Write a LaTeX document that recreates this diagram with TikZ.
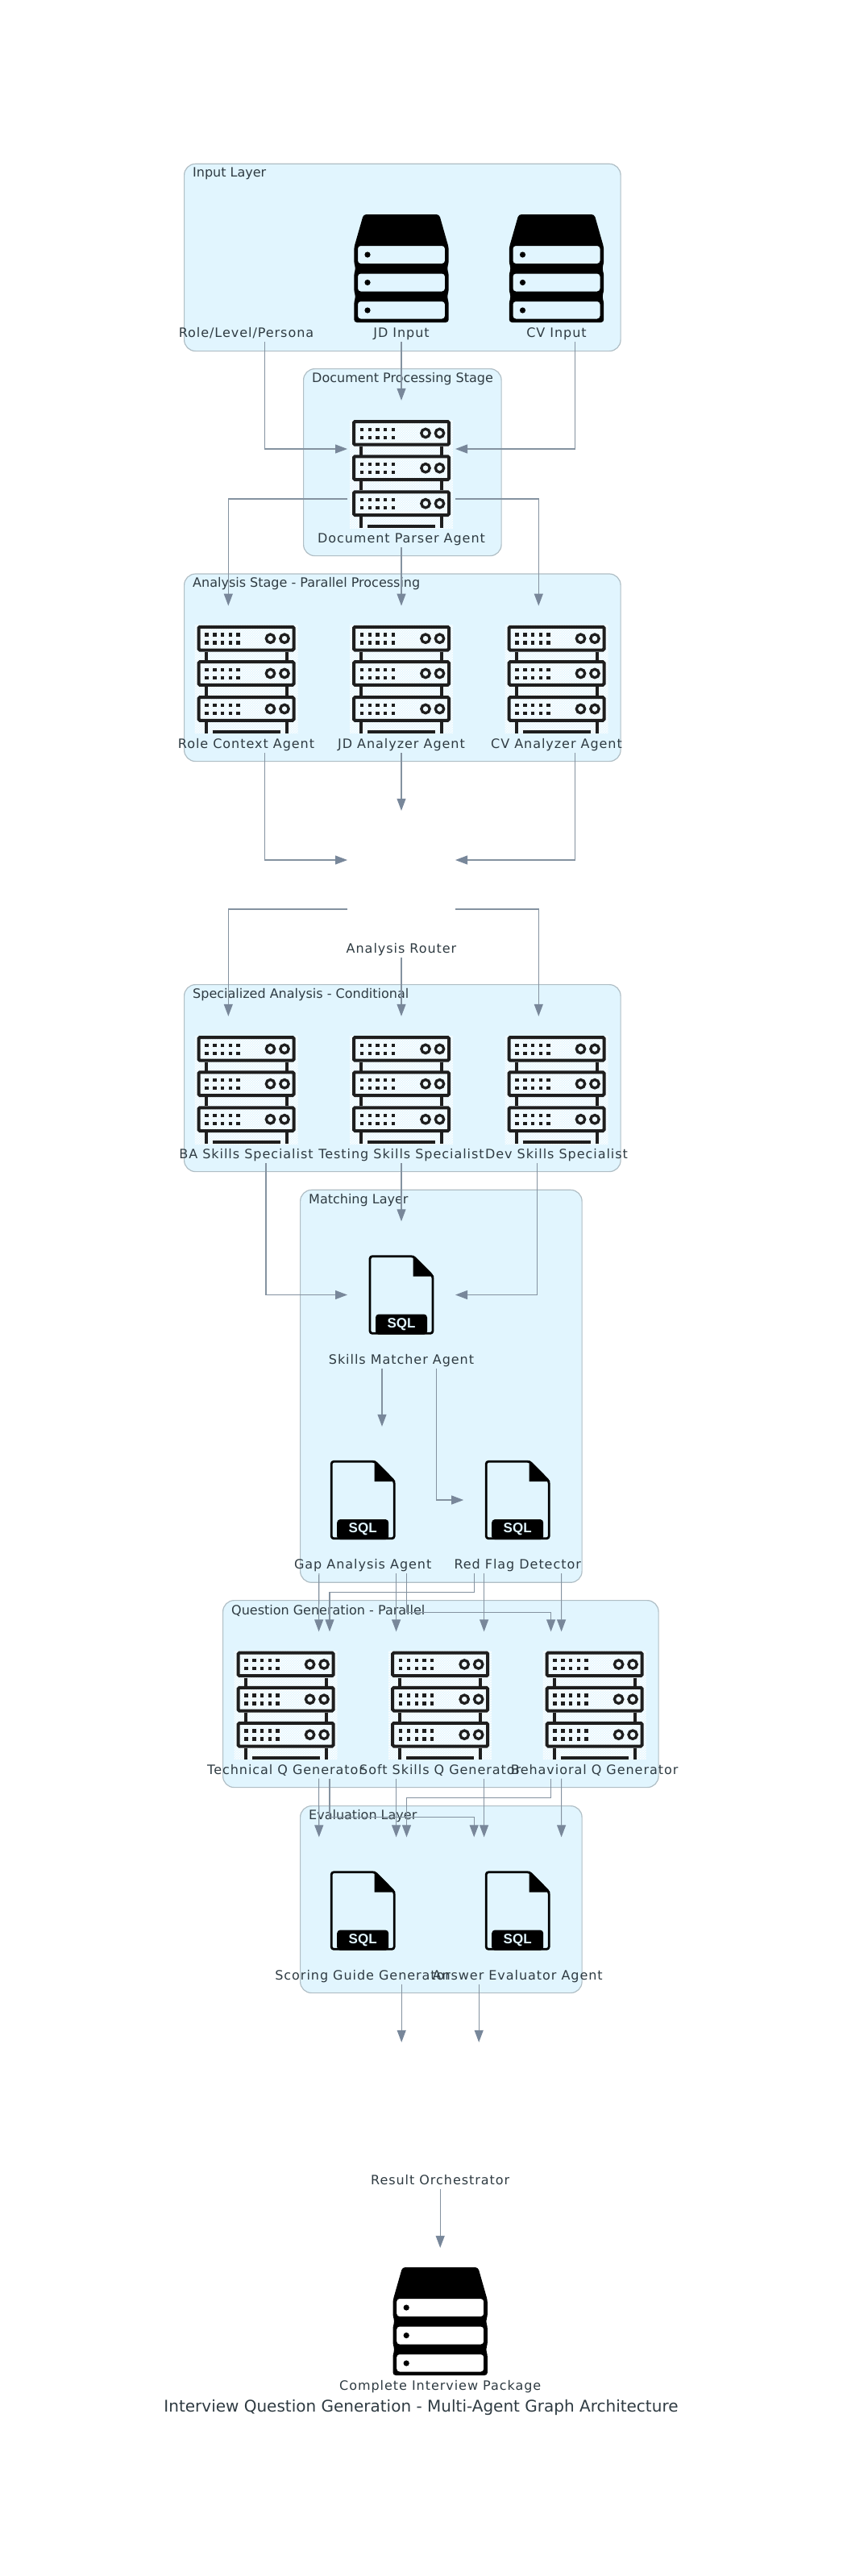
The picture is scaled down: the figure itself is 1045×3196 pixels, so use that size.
\documentclass[tikz,border=0pt]{standalone}
\usepackage{fontspec}
\setmainfont{DejaVu Sans}
\newfontfamily\spacedfont{DejaVu Sans}[LetterSpace=6]
\newfontfamily\tagfont{Liberation Sans}[Scale=1]
\usetikzlibrary{arrows.meta,patterns}
\definecolor{clusterfill}{HTML}{E1F5FE}
\definecolor{clusterline}{HTML}{B0BEC5}
\definecolor{flowline}{HTML}{8492A0}
\definecolor{flowtip}{HTML}{78879A}
\definecolor{inktext}{HTML}{2F3B42}
\definecolor{rackink}{HTML}{1E1E1E}

\begin{document}
\begin{tikzpicture}[x=1pt,y=-1pt]
\tikzset{
  cluster/.style={draw=clusterline,fill=clusterfill,line width=1.2pt,rounded corners=14pt,anchor=north west,inner sep=0pt},
  clabel/.style={anchor=west,text=inktext,font=\fontsize{16}{19}\selectfont,inner sep=0pt},
  nlabel/.style={anchor=center,yshift=10pt,label distance=0pt,inner sep=0pt,text=inktext,text height=12pt,text depth=3pt,font=\fontsize{16}{19}\spacedfont},
  agentbox/.style={minimum width=133.6pt,minimum height=182pt,inner sep=0pt,label={[nlabel]south:#1}},
  flow/.style={draw=flowline,line width=1.1pt,-{Triangle[length=15pt,width=11pt,color=flowtip]}},
  rack/.pic={
    \fill[pattern=crosshatch,pattern color=white] (-64,-67) rectangle (64,67);
    \foreach \ry in {-67,-23.7,20.3} {
      \draw[rackink,line width=4pt,rounded corners=1.5pt] (-59,\ry+2) rectangle (59,\ry+30.7);
      \foreach \dx in {-49,-39.2,-29.5,-19.8,-10} {
        \fill[rackink] (\dx-2.2,\ry+9.5) rectangle (\dx+2.2,\ry+13.9);
        \fill[rackink] (\dx-2.2,\ry+19.5) rectangle (\dx+2.2,\ry+23.9);
      }
      \draw[rackink,line width=3.3pt] (30,\ry+16.4) circle (5.2);
      \draw[rackink,line width=3.3pt] (47.5,\ry+16.4) circle (5.2);
    }
    \draw[rackink,line width=4pt]
      (-50,-34) -- (-50,-23) (50,-34) -- (50,-23)
      (-50,9) -- (-50,20) (50,9) -- (50,20)
      (-50,53) -- (-50,67) (50,53) -- (50,67)
      (-42,65) -- (42,65);
  },
  stack/.pic={
    \fill[black,even odd rule,rounded corners=3.5pt]
      (-47,-67) -- (47,-67) -- (58.7,-26) -- (58.7,-6) -- (56.5,0) -- (58.7,6) -- (58.7,29)
      -- (56.5,35) -- (58.7,41) -- (58.7,67) -- (-58.7,67) -- (-58.7,41) -- (-56.5,35) -- (-58.7,29)
      -- (-58.7,6) -- (-56.5,0) -- (-58.7,-6) -- (-58.7,-26) -- cycle
      (-54,-28) rectangle (54,-6)
      (-54,6.5) rectangle (54,28.5)
      (-54,41) rectangle (54,62.5);
    \foreach \ry in {-17,17.5,52} {
      \fill[black] (-42,\ry) circle (3.6);
    }
  },
  sqlfile/.pic={
    \draw[black,line width=2.8pt,line join=round,rounded corners=3pt] (-39,47.8) -- (-39,-47.8) -- (15,-47.8) -- (39,-23.5) -- (39,47.8) -- cycle;
    \fill[black] (14.5,-49.2) -- (40.5,-23) -- (14.5,-23) -- cycle;
    \fill[black,rounded corners=4pt] (-32,49.2) -- (-32,24) -- (32,24) -- (32,49.2) -- cycle;
    \node[text=clusterfill,inner sep=0pt,font=\fontsize{17}{19}\tagfont\bfseries] (sqltag) at (0,36.7) {SQL};
  }
}
\useasboundingbox (0,0) rectangle (1045,3196);
\node[cluster,minimum width=541.5pt,minimum height=232.3pt] (c_input) at (228,202.7) {};
\node[cluster,minimum width=245.5pt,minimum height=232pt] (c_doc) at (376,457) {};
\node[cluster,minimum width=541.5pt,minimum height=232.6pt] (c_analysis) at (228,711.4) {};
\node[cluster,minimum width=541.5pt,minimum height=232pt] (c_special) at (228,1221) {};
\node[cluster,minimum width=349.5pt,minimum height=487pt] (c_match) at (372,1475.7) {};
\node[cluster,minimum width=540.5pt,minimum height=232pt] (c_question) at (276,1985) {};
\node[cluster,minimum width=349.5pt,minimum height=232pt] (c_eval) at (372,2240) {};
\node[clabel] (t_input) at ([xshift=11pt,yshift=-13pt]c_input.north west) {Input Layer};
\node[clabel] (t_doc) at ([xshift=11pt,yshift=-13pt]c_doc.north west) {Document Processing Stage};
\node[clabel] (t_analysis) at ([xshift=11pt,yshift=-13pt]c_analysis.north west) {Analysis Stage - Parallel Processing};
\node[clabel] (t_special) at ([xshift=11pt,yshift=-13pt]c_special.north west) {Specialized Analysis - Conditional};
\node[clabel] (t_match) at ([xshift=11pt,yshift=-13pt]c_match.north west) {Matching Layer};
\node[clabel] (t_question) at ([xshift=11pt,yshift=-13pt]c_question.north west) {Question Generation - Parallel};
\node[clabel] (t_eval) at ([xshift=11pt,yshift=-13pt]c_eval.north west) {Evaluation Layer};
\node[agentbox=Role/Level/Persona] (n_role) at (305.5,333) {};
\node[agentbox=JD Input] (n_jd) at (498,333) {};
\node[agentbox=CV Input] (n_cv) at (690.5,333) {};
\node[agentbox=Document Parser Agent] (n_doc) at (498,588) {};
\node[agentbox=Role Context Agent] (n_ctx) at (305.5,842.8) {};
\node[agentbox=JD Analyzer Agent] (n_jda) at (498,842.8) {};
\node[agentbox=CV Analyzer Agent] (n_cva) at (690.5,842.8) {};
\node[agentbox=Analysis Router] (n_router) at (498,1097) {};
\node[agentbox=BA Skills Specialist] (n_ba) at (305.5,1352) {};
\node[agentbox=Testing Skills Specialist] (n_test) at (498,1352) {};
\node[agentbox=Dev Skills Specialist] (n_dev) at (690.5,1352) {};
\node[agentbox=Skills Matcher Agent] (n_skills) at (498,1606.5) {};
\node[agentbox=Gap Analysis Agent] (n_gap) at (450.2,1861) {};
\node[agentbox=Red Flag Detector] (n_red) at (642.2,1861) {};
\node[agentbox=Technical Q Generator] (n_tech) at (354.6,2115.5) {};
\node[agentbox=Soft Skills Q Generator] (n_soft) at (546.2,2115.5) {};
\node[agentbox=Behavioral Q Generator] (n_behav) at (737.6,2115.5) {};
\node[agentbox=Scoring Guide Generator] (n_score) at (450.2,2370.5) {};
\node[agentbox=Answer Evaluator Agent] (n_answer) at (642.2,2370.5) {};
\node[agentbox=Result Orchestrator] (n_result) at (546.2,2625) {};
\node[agentbox=Complete Interview Package] (n_package) at (546.2,2880) {};
\node[text=inktext,inner sep=0pt,font=\fontsize{20}{24}\selectfont] (n_title) at (522.5,2987) {Interview Question Generation - Multi-Agent Graph Architecture};
\pic at (n_jd) {stack};
\pic at (n_cv) {stack};
\pic at (n_package) {stack};
\pic at (n_doc) {rack};
\pic at (n_ctx) {rack};
\pic at (n_jda) {rack};
\pic at (n_cva) {rack};
\pic at (n_ba) {rack};
\pic at (n_test) {rack};
\pic at (n_dev) {rack};
\pic at (n_tech) {rack};
\pic at (n_soft) {rack};
\pic at (n_behav) {rack};
\pic at (n_skills) {sqlfile};
\pic at (n_gap) {sqlfile};
\pic at (n_red) {sqlfile};
\pic at (n_score) {sqlfile};
\pic at (n_answer) {sqlfile};
\draw[flow] ([xshift=23pt]n_role.south) |- ([yshift=31pt]n_doc.west);
\draw[flow] (n_jd.south) -- (n_doc.north);
\draw[flow] ([xshift=22.6pt]n_cv.south) |- ([yshift=31pt]n_doc.east);
\draw[flow] ([yshift=-31pt]n_doc.west) -| ([xshift=-22.2pt]n_ctx.north);
\draw[flow] (n_doc.south) -- (n_jda.north);
\draw[flow] ([yshift=-31pt]n_doc.east) -| ([xshift=-22.2pt]n_cva.north);
\draw[flow] ([xshift=23pt]n_ctx.south) |- ([yshift=30pt]n_router.west);
\draw[flow] (n_jda.south) -- (n_router.north);
\draw[flow] ([xshift=22.6pt]n_cva.south) |- ([yshift=30pt]n_router.east);
\draw[flow] ([yshift=-31pt]n_router.west) -| ([xshift=-22.2pt]n_ba.north);
\draw[flow] (n_router.south) -- (n_test.north);
\draw[flow] ([yshift=-31pt]n_router.east) -| ([xshift=-22.2pt]n_dev.north);
\draw[flow] ([xshift=24.5pt]n_ba.south) |- (n_skills.west);
\draw[flow] (n_test.south) -- (n_skills.north);
\draw[flow] ([xshift=-23.7pt]n_dev.south) |- (n_skills.east);
\draw[flow] ([xshift=-24pt]n_skills.south) -- ([xshift=23.8pt]n_gap.north);
\draw[flow] ([xshift=43.3pt]n_skills.south) |- (n_red.west);
\draw[flow] ([xshift=-54.4pt]n_gap.south) -- ([xshift=41pt]n_tech.north);
\draw[flow] ([xshift=41.4pt]n_gap.south) -- ([xshift=-54.6pt]n_soft.north);
\draw[flow] ([xshift=54.3pt]n_gap.south) -- ++(0,48) -| ([xshift=-54pt]n_behav.north);
\draw[flow] ([xshift=-54pt]n_red.south) -- ++(0,23.7) -| ([xshift=54.4pt]n_tech.north);
\draw[flow] ([xshift=-41.6pt]n_red.south) -- ([xshift=54.4pt]n_soft.north);
\draw[flow] ([xshift=54.4pt]n_red.south) -- ([xshift=-41pt]n_behav.north);
\draw[flow] ([xshift=41pt]n_tech.south) -- ([xshift=-54.4pt]n_score.north);
\draw[flow] ([xshift=54.4pt]n_tech.south) -- ++(0,48) -| ([xshift=-54pt]n_answer.north);
\draw[flow] ([xshift=-54.6pt]n_soft.south) -- ([xshift=41.4pt]n_score.north);
\draw[flow] ([xshift=54.4pt]n_soft.south) -- ([xshift=-41.6pt]n_answer.north);
\draw[flow] ([xshift=-54pt]n_behav.south) -- ++(0,23.7) -| ([xshift=54.3pt]n_score.north);
\draw[flow] ([xshift=-41pt]n_behav.south) -- ([xshift=54.4pt]n_answer.north);
\draw[flow] ([xshift=48pt]n_score.south) -- ([xshift=-48pt]n_result.north);
\draw[flow] ([xshift=-48pt]n_answer.south) -- ([xshift=48pt]n_result.north);
\draw[flow] (n_result.south) -- (n_package.north);
\end{tikzpicture}
\end{document}
